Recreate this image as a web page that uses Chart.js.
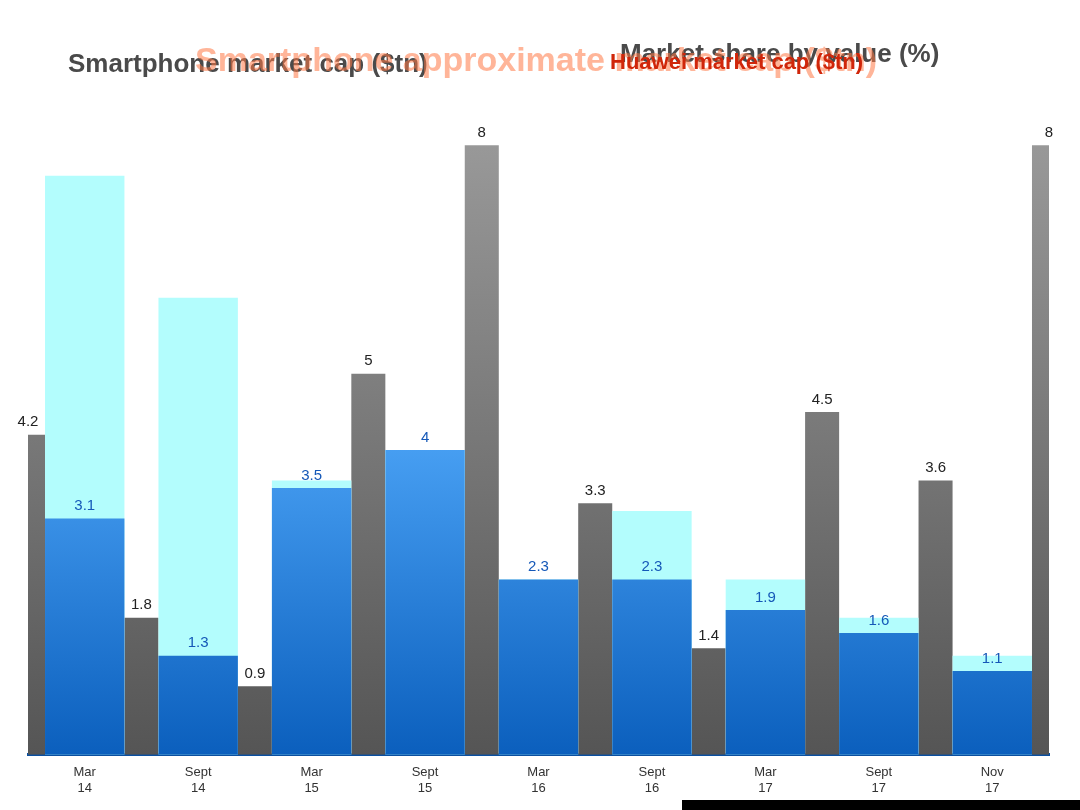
<!DOCTYPE html>
<html>
<head>
<meta charset="utf-8">
<script src="https://cdn.jsdelivr.net/npm/chart.js@4.4.1/dist/chart.umd.min.js"></script>
<style>
  html, body { margin: 0; padding: 0; background: #ffffff; }
  #wrap { position: relative; width: 1080px; height: 810px; overflow: hidden; font-family: "Liberation Sans", Arial, sans-serif; }
  #c { position: absolute; left: 0; top: 0; }
  .t { position: absolute; white-space: nowrap; font-weight: bold; }
  #title { left: 195px; top: 40px; font-size: 34px; color: rgba(255, 120, 70, 0.55); }
  #subL { left: 68px; top: 48px; font-size: 26px; color: #4a4a4a; }
  #subR { left: 620px; top: 38px; font-size: 26px; color: #4a4a4a; }
  #red { left: 610px; top: 49px; font-size: 22px; color: #d0260a; }
  #blk { position: absolute; left: 682px; top: 800px; width: 398px; height: 10px; background: #000; }
</style>
</head>
<body>
<div id="wrap">
  <canvas id="c" width="1080" height="810"></canvas>
  <div class="t" id="subL">Smartphone market cap ($tn)</div>
  <div class="t" id="subR">Market share by value (%)</div>
  <div class="t" id="title">Smartphone approximate market cap ($tn)</div>
  <div class="t" id="red">Huawei market cap ($tn)</div>
  <div id="blk"></div>
</div>
<script>
// ---- data ----
const categories = [["Mar", "14"], ["Sept", "14"], ["Mar", "15"], ["Sept", "15"], ["Mar", "16"], ["Sept", "16"], ["Mar", "17"], ["Sept", "17"], ["Nov", "17"]];
const totalValues = [7.6, 6.0, 3.6, 4.0, 2.3, 3.2, 2.3, 1.8, 1.3];
const blueValues  = [3.1, 1.3, 3.5, 4.0, 2.3, 2.3, 1.9, 1.6, 1.1];
// gray series sits between the quarters
const grayLabels  = ["", "", "", "", "", "", "", "", "", ""];
const grayValues  = [4.2, 1.8, 0.9, 5.0, 8.0, 3.3, 1.4, 4.5, 3.6, 8.0];

function blueGrad(ctx) {
  const ch = ctx.chart, a = ch.chartArea;
  if (!a) return '#1e6fd0';
  const g = ch.ctx.createLinearGradient(0, a.top + 300, 0, a.bottom);
  g.addColorStop(0, '#4aa2f5');
  g.addColorStop(1, '#0b5fbd');
  return g;
}
function grayGrad(ctx) {
  const ch = ctx.chart, a = ch.chartArea;
  if (!a) return '#777';
  const g = ch.ctx.createLinearGradient(0, a.top, 0, a.bottom);
  g.addColorStop(0, '#9a9a9a');
  g.addColorStop(1, '#555555');
  return g;
}

const labelPlugin = {
  id: 'vals',
  afterDatasetsDraw(chart) {
    const ctx = chart.ctx;
    ctx.save();
    ctx.font = '15px "Liberation Sans", Arial, sans-serif';
    ctx.textAlign = 'center';
    ctx.textBaseline = 'bottom';
    chart.data.datasets.forEach((ds, i) => {
      if (!ds.showVals) return;
      const meta = chart.getDatasetMeta(i);
      meta.data.forEach((bar, j) => {
        ctx.fillStyle = ds.valColor;
        ctx.fillText(ds.data[j].toFixed(1).replace(/\.0$/, ''), bar.x + (ds.valShift || 0), bar.y - 5);
      });
    });
    ctx.restore();
  }
};

new Chart(document.getElementById('c'), {
  type: 'bar',
  data: {
    labels: categories,
    datasets: [
      { label: 'Huawei', data: blueValues, backgroundColor: blueGrad, grouped: false, order: 1,
        barPercentage: 0.7, categoryPercentage: 1.0, showVals: true, valColor: '#1558b8' },
      { label: 'Total', data: totalValues, backgroundColor: '#b3fdfd', grouped: false, order: 2,
        barPercentage: 0.7, categoryPercentage: 1.0 },
      { label: 'Other', data: grayValues, xAxisID: 'x2', backgroundColor: grayGrad, grouped: false, order: 3,
        barPercentage: 0.3, categoryPercentage: 1.0, showVals: true, valColor: '#222', valShift: 0 }
    ]
  },
  options: {
    responsive: false,
    animation: false,
    layout: { padding: { left: 28, right: 31, top: 130, bottom: 12 } },
    plugins: { legend: { display: false }, title: { display: false }, tooltip: { enabled: false } },
    scales: {
      x: {
        grid: { display: false },
        border: { color: '#0a4fa0', width: 3 },
        ticks: { color: '#333', font: { size: 13, family: '"Liberation Sans", Arial, sans-serif' }, maxRotation: 0, autoSkip: false, padding: 2 }
      },
      x2: {
        type: 'category',
        labels: grayLabels,
        offset: false,
        display: false,
        grid: { display: false }
      },
      y: { display: false, min: 0, max: 8.2 }
    }
  },
  plugins: [labelPlugin]
});
</script>
</body>
</html>
